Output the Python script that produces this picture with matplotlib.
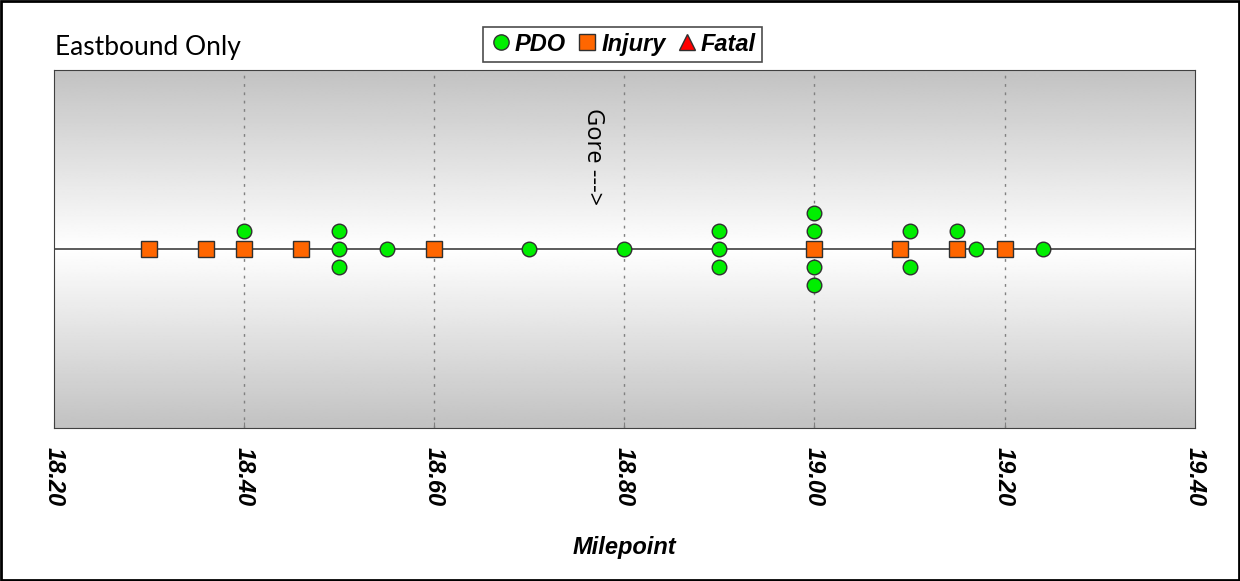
import numpy as np
import matplotlib.pyplot as plt
from matplotlib.patches import Rectangle
from matplotlib.lines import Line2D

# crash milepoints and their stack row (0 = on the line, +/- = stacked above/below)
pdo_mp = [18.40, 18.50, 18.50, 18.50, 18.55, 18.70, 18.80, 18.90, 18.90, 18.90,
          19.00, 19.00, 19.00, 19.00, 19.10, 19.10, 19.15, 19.17, 19.24]
pdo_row = [1, 0, 1, -1, 0, 0, 0, 0, 1, -1,
           1, 2, -1, -2, 1, -1, 1, 0, 0]
inj_mp = [18.30, 18.36, 18.40, 18.46, 18.60, 19.00, 19.09, 19.15, 19.20]
inj_row = [0, 0, 0, 0, 0, 0, 0, 0, 0]
fatal_mp = []
fatal_row = []

ticks = [18.20, 18.40, 18.60, 18.80, 19.00, 19.20, 19.40]

fig = plt.figure(figsize=(12.4, 5.81), dpi=100)
ax = fig.add_axes([0.0435, 0.2633, 0.92, 0.6162])

# gray-white-gray background
t = np.linspace(-1, 1, 256)
g = 0.76 + 0.24 * (1 - np.abs(t))
grad = np.repeat(g[:, None], 2, axis=1)
ax.imshow(grad, cmap='gray', vmin=0, vmax=1, extent=[18.2, 19.4, -10, 10],
          aspect='auto', zorder=0, interpolation='bilinear')

ax.set_xlim(18.2, 19.4)
ax.set_ylim(-10, 10)
ax.set_xticks(ticks)
ax.set_xticklabels(['%.2f' % v for v in ticks], rotation=-90, fontsize=17,
                   fontweight='bold', fontstyle='italic', family='Liberation Sans')
ax.tick_params(axis='x', direction='in', length=4, pad=14, color='#808080')
ax.set_yticks([])
for v in ticks[1:-1]:
    ax.axvline(v, color='#808080', linestyle=(0, (2, 4)), linewidth=1, zorder=1)
ax.axhline(0, color='#404040', linewidth=1.2, zorder=2)
for s in ax.spines.values():
    s.set_color('#404040')

ax.plot(inj_mp, inj_row, marker='s', color='#ff6600', markersize=11, markeredgecolor='#303030',
        markeredgewidth=1, linestyle='none', zorder=3)
ax.plot(pdo_mp, pdo_row, marker='o', color='#00ee00', markersize=10.5, markeredgecolor='#303030',
        markeredgewidth=1, linestyle='none', zorder=3)
ax.plot(fatal_mp, fatal_row, marker='^', color='#ff0000', markersize=11, markeredgecolor='#303030',
        markeredgewidth=1, linestyle='none', zorder=3)

ax.text(18.767, 7.9, 'Gore --->', rotation=-90, fontsize=17, family='Open Sans',
        ha='center', va='top', zorder=4)

ax.set_xlabel('Milepoint', fontsize=17, fontweight='bold', fontstyle='italic',
              family='Liberation Sans', labelpad=21)

fig.text(0.044, 0.918, 'Eastbound Only', fontsize=19, family='Lato', va='center')

handles = [Line2D([], [], marker='o', color='#00ee00', markeredgecolor='#303030', linestyle='none', markersize=11),
           Line2D([], [], marker='s', color='#ff6600', markeredgecolor='#303030', linestyle='none', markersize=11),
           Line2D([], [], marker='^', color='#ff0000', markeredgecolor='#303030', linestyle='none', markersize=11)]
leg = fig.legend(handles, ['PDO', 'Injury', 'Fatal'], loc='center', bbox_to_anchor=(0.502, 0.924),
                 ncol=3, frameon=True, fancybox=False, edgecolor='#202020', handletextpad=0.1,
                 columnspacing=0.4, handlelength=1.0, borderpad=0.25,
                 prop=dict(family='Liberation Sans', weight='bold', style='italic', size=17))
leg.get_frame().set_linewidth(1.2)

fig.patches.append(Rectangle((0.001, 0.002), 0.998, 0.996, transform=fig.transFigure,
                             fill=False, edgecolor='black', linewidth=2))

plt.savefig('out.png', dpi=100)
